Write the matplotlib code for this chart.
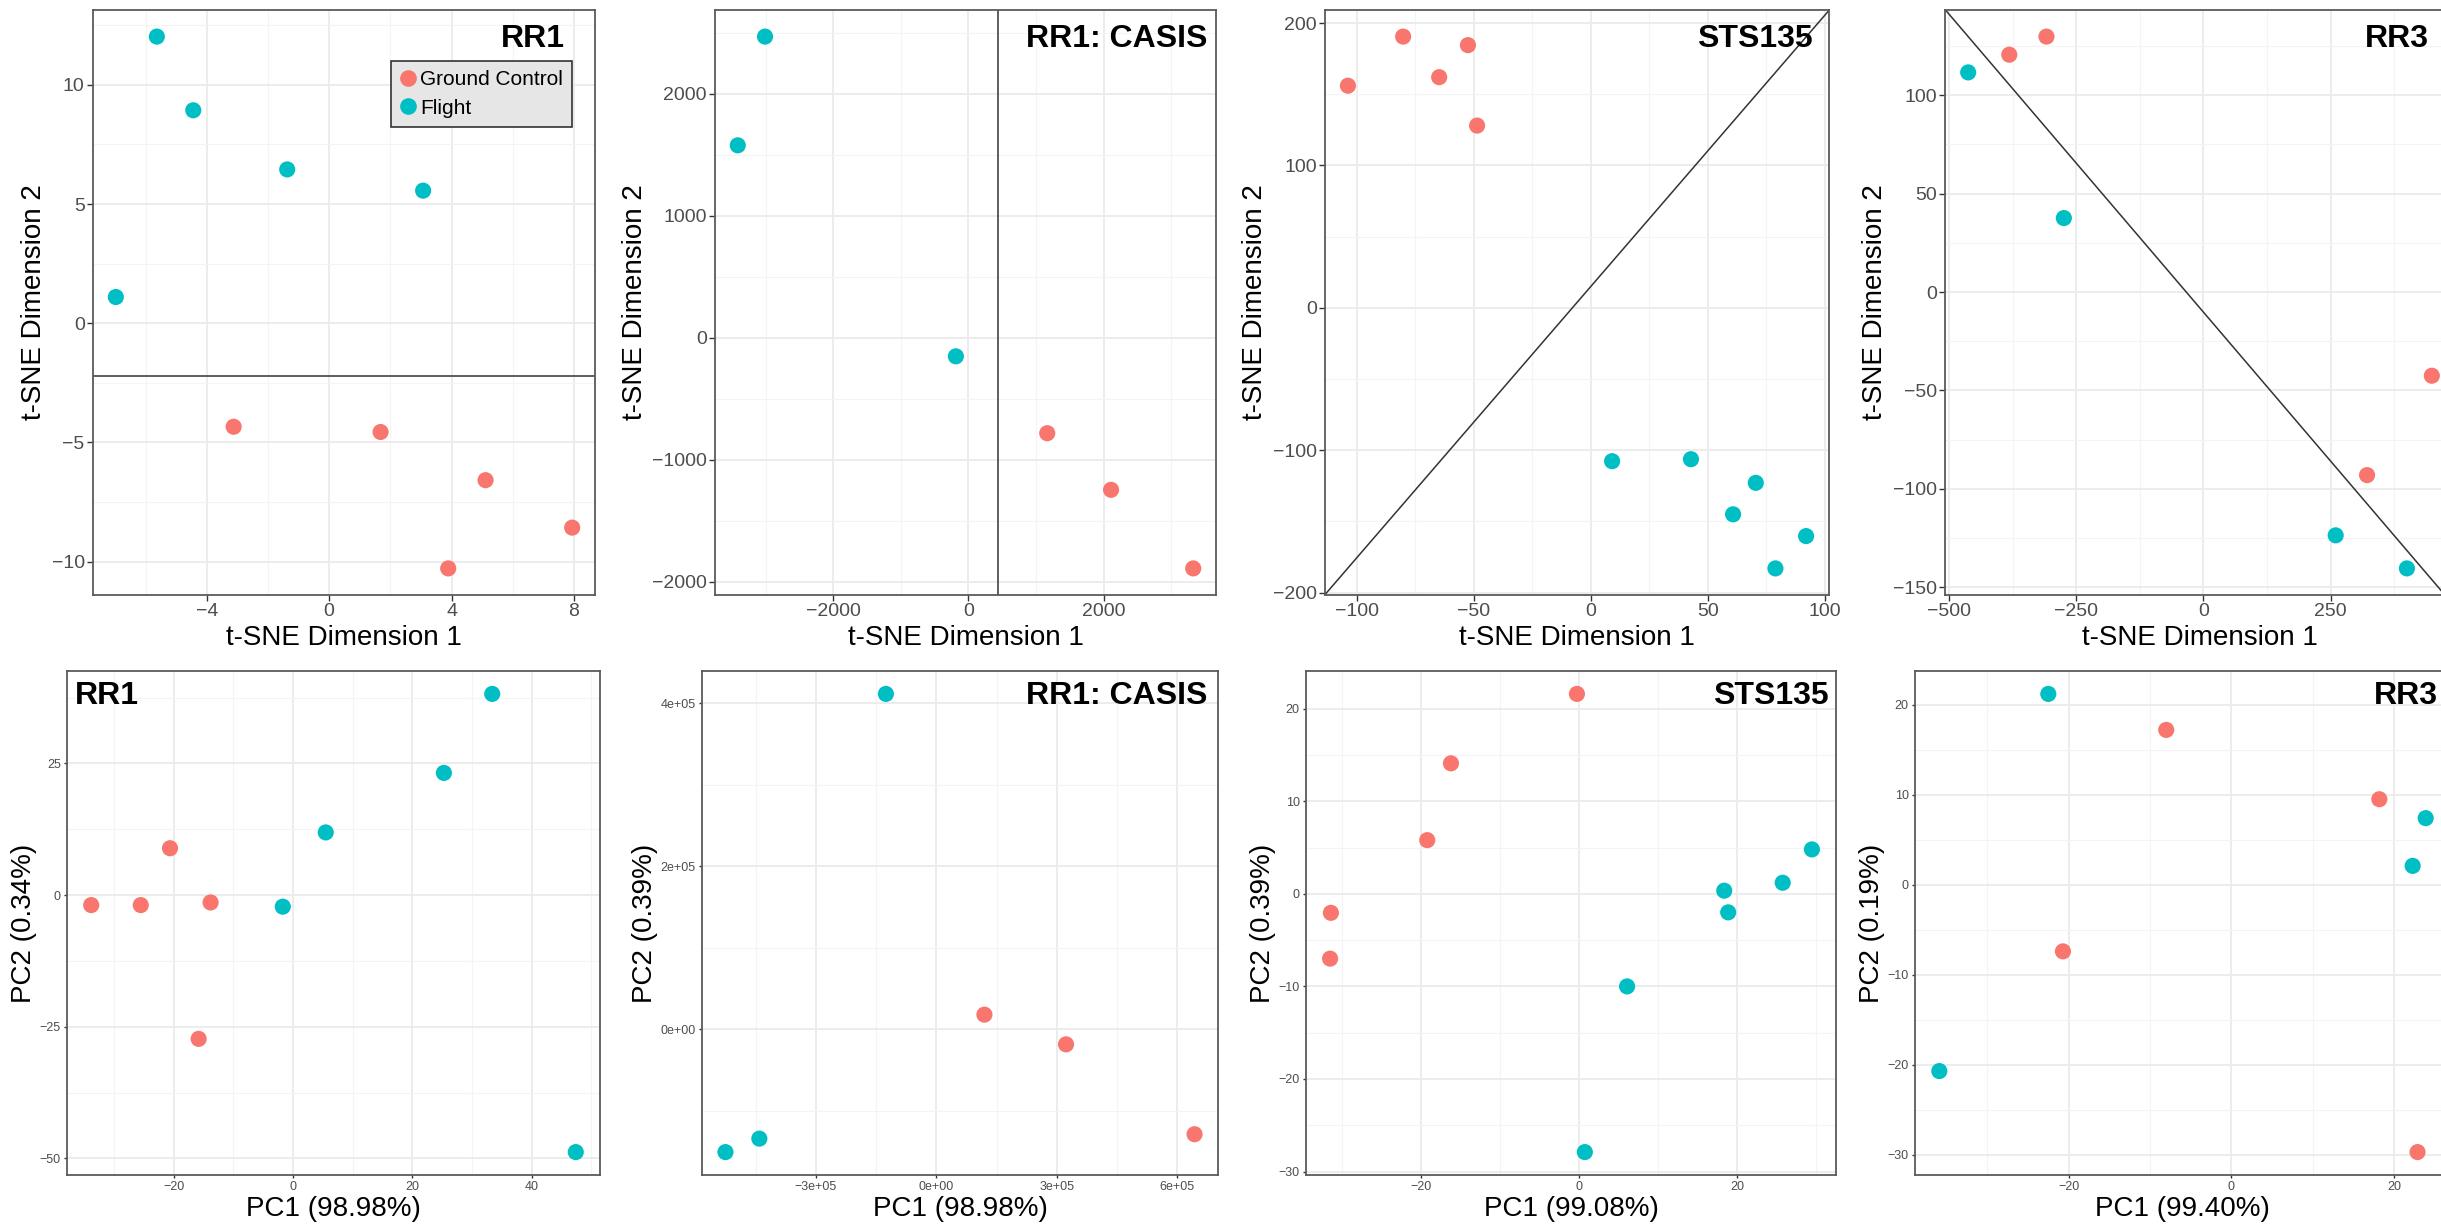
import matplotlib.pyplot as plt
import numpy as np
from matplotlib.lines import Line2D
from matplotlib.ticker import AutoMinorLocator, FuncFormatter

plt.rcParams['font.family'] = ['Liberation Sans', 'DejaVu Sans']

GC_COLOR = '#F8766D'   # Ground Control
FL_COLOR = '#00BFC4'   # Flight

# === t-SNE values (top row) ===
rr1_tsne_gc_x = [-3.12, 1.68, 5.11, 3.89, 7.94]
rr1_tsne_gc_y = [-4.34, -4.56, -6.58, -10.28, -8.57]
rr1_tsne_fl_x = [-5.63, -4.44, -1.37, 3.07, -6.97]
rr1_tsne_fl_y = [12.02, 8.93, 6.45, 5.56, 1.10]

casis_tsne_gc_x = [1166, 2110, 3326]
casis_tsne_gc_y = [-782, -1246, -1890]
casis_tsne_fl_x = [-3010, -3413, -186]
casis_tsne_fl_y = [2468, 1577, -152]

sts_tsne_gc_x = [-80.2, -52.5, -64.8, -103.8, -48.6]
sts_tsne_gc_y = [190.5, 184.5, 162.0, 156.0, 128.0]
sts_tsne_fl_x = [9.1, 42.8, 70.5, 60.8, 92.0, 78.9]
sts_tsne_fl_y = [-107.7, -106.3, -122.9, -145.0, -160.3, -183.0]

rr3_tsne_gc_x = [-381.7, -308.6, 449.0, 321.7]
rr3_tsne_gc_y = [120.6, 129.8, -42.5, -93.0]
rr3_tsne_fl_x = [-462.5, -274.4, 260.0, 400.0]
rr3_tsne_fl_y = [111.6, 37.6, -123.6, -140.4]

# === PCA values (bottom row) ===
rr1_pca_gc_x = [-33.8, -25.5, -20.6, -13.8, -15.8]
rr1_pca_gc_y = [-1.9, -1.9, 8.9, -1.4, -27.3]
rr1_pca_fl_x = [-1.7, 5.5, 25.3, 33.4, 47.4]
rr1_pca_fl_y = [-2.2, 11.9, 23.2, 38.2, -48.8]

casis_pca_gc_x = [1.197e5, 3.229e5, 6.428e5]
casis_pca_gc_y = [1.80e4, -1.84e4, -1.286e5]
casis_pca_fl_x = [-1.256e5, -5.25e5, -4.406e5]
casis_pca_fl_y = [4.112e5, -1.505e5, -1.34e5]

sts_pca_gc_x = [-0.25, -16.2, -19.2, -31.4, -31.5]
sts_pca_gc_y = [21.6, 14.1, 5.8, -2.05, -7.0]
sts_pca_fl_x = [18.4, 18.9, 25.8, 29.5, 6.1, 0.75]
sts_pca_fl_y = [0.34, -2.0, 1.2, 4.8, -10.0, -27.9]

rr3_pca_gc_x = [-8.0, 18.2, -20.7, 22.9]
rr3_pca_gc_y = [17.2, 9.5, -7.4, -29.7]
rr3_pca_fl_x = [-22.5, 23.9, 22.3, -35.9]
rr3_pca_fl_y = [21.2, 7.4, 2.1, -20.7]

# variance explained labels
pc1_labels = ['PC1 (98.98%)', 'PC1 (98.98%)', 'PC1 (99.08%)', 'PC1 (99.40%)']
pc2_labels = ['PC2 (0.34%)', 'PC2 (0.39%)', 'PC2 (0.39%)', 'PC2 (0.19%)']
titles = ['RR1', 'RR1: CASIS', 'STS135', 'RR3']

W, H = 2441, 1225
fig = plt.figure(figsize=(W / 100, H / 100), dpi=100)


def make_ax(x0, x1, y0, y1):
    return fig.add_axes([x0 / W, 1 - y1 / H, (x1 - x0) / W, (y1 - y0) / H])


def style(ax, xticks, yticks, tick_size, tick_len, fmt=None):
    xl, yl = ax.get_xlim(), ax.get_ylim()
    ax.set_xticks(xticks)
    ax.set_yticks(yticks)
    ax.set_xlim(xl)
    ax.set_ylim(yl)
    if fmt is not None:
        ax.xaxis.set_major_formatter(fmt)
        ax.yaxis.set_major_formatter(fmt)
    ax.xaxis.set_minor_locator(AutoMinorLocator(2))
    ax.yaxis.set_minor_locator(AutoMinorLocator(2))
    ax.set_axisbelow(True)
    ax.grid(which='major', color='#EBEBEB', linewidth=1.3)
    ax.grid(which='minor', color='#F4F4F4', linewidth=0.8)
    ax.tick_params(which='major', labelsize=tick_size, labelcolor='#4D4D4D',
                   color='#333333', length=tick_len, width=1.0, pad=2)
    ax.tick_params(which='minor', length=0)
    for sp in ax.spines.values():
        sp.set_color('#5A5A5A')
        sp.set_linewidth(1.3)


def points(ax, gx, gy, fx, fy):
    ax.scatter(gx, gy, s=135, color=GC_COLOR, edgecolors='none', zorder=3)
    ax.scatter(fx, fy, s=135, color=FL_COLOR, edgecolors='none', zorder=3)
    ax.margins(0.05)


def title(ax, text, right=True, dx=0, dy=-14):
    if right:
        ax.annotate(text, xy=(1, 1), xycoords='axes fraction', xytext=(dx, dy),
                    textcoords='offset pixels', ha='right', va='top',
                    fontsize=23, fontweight='bold', zorder=5)
    else:
        ax.annotate(text, xy=(0, 1), xycoords='axes fraction', xytext=(dx, dy),
                    textcoords='offset pixels', ha='left', va='top',
                    fontsize=23, fontweight='bold', zorder=5)


sci = FuncFormatter(lambda v, p: ('%.0e' % v).replace('-', '\u2212', 1) if v < 0 else '%.0e' % v)

# --- top row: t-SNE ---
top = [(93, 595), (715, 1216), (1325, 1829), (1945, 2455)]
tsne = [
    (rr1_tsne_gc_x, rr1_tsne_gc_y, rr1_tsne_fl_x, rr1_tsne_fl_y),
    (casis_tsne_gc_x, casis_tsne_gc_y, casis_tsne_fl_x, casis_tsne_fl_y),
    (sts_tsne_gc_x, sts_tsne_gc_y, sts_tsne_fl_x, sts_tsne_fl_y),
    (rr3_tsne_gc_x, rr3_tsne_gc_y, rr3_tsne_fl_x, rr3_tsne_fl_y),
]
tsne_xticks = [[-4, 0, 4, 8], [-2000, 0, 2000], [-100, -50, 0, 50, 100], [-500, -250, 0, 250]]
tsne_yticks = [[-10, -5, 0, 5, 10], [-2000, -1000, 0, 1000, 2000],
               [-200, -100, 0, 100, 200], [-150, -100, -50, 0, 50, 100]]
title_dx = [-30, -9, -16, -26]

for i, (x0, x1) in enumerate(top):
    ax = make_ax(x0, x1, 10, 595)
    points(ax, *tsne[i])
    if i == 0:
        ax.axhline(-2.2, color='#333333', linewidth=1.1, zorder=2)
    elif i == 1:
        ax.axvline(438, color='#333333', linewidth=1.1, zorder=2)
    elif i == 2:
        ax.axline((0, 15), slope=1.905, color='#333333', linewidth=1.1, zorder=2)
    else:
        ax.axline((0, -10.2), slope=-0.3027, color='#333333', linewidth=1.1, zorder=2)
    style(ax, tsne_xticks[i], tsne_yticks[i], 14, 4)
    ax.set_xlabel('t-SNE Dimension 1', fontsize=20, labelpad=3)
    ax.set_ylabel('t-SNE Dimension 2', fontsize=20, labelpad=3)
    title(ax, titles[i], dx=title_dx[i], dy=-14)
    if i == 0:
        handles = [Line2D([], [], marker='o', linestyle='none', markersize=12,
                          markerfacecolor=GC_COLOR, markeredgecolor='none'),
                   Line2D([], [], marker='o', linestyle='none', markersize=12,
                          markerfacecolor=FL_COLOR, markeredgecolor='none')]
        leg = ax.legend(handles, ['Ground Control', 'Flight'], loc='upper right',
                        bbox_to_anchor=(0.955, 0.913), fontsize=15, frameon=True,
                        fancybox=False, borderaxespad=0, handlelength=0.7,
                        handletextpad=0.25, labelspacing=0.45, borderpad=0.45)
        leg.get_frame().set_facecolor('#E6E6E6')
        leg.get_frame().set_edgecolor('#333333')
        leg.get_frame().set_linewidth(1.2)
        leg.get_frame().set_alpha(1)

# --- bottom row: PCA ---
bottom = [(67, 600), (702, 1218), (1306, 1836), (1915, 2450)]
pca = [
    (rr1_pca_gc_x, rr1_pca_gc_y, rr1_pca_fl_x, rr1_pca_fl_y),
    (casis_pca_gc_x, casis_pca_gc_y, casis_pca_fl_x, casis_pca_fl_y),
    (sts_pca_gc_x, sts_pca_gc_y, sts_pca_fl_x, sts_pca_fl_y),
    (rr3_pca_gc_x, rr3_pca_gc_y, rr3_pca_fl_x, rr3_pca_fl_y),
]
pca_xticks = [[-20, 0, 20, 40], [-3e5, 0, 3e5, 6e5], [-20, 0, 20], [-20, 0, 20]]
pca_yticks = [[-50, -25, 0, 25], [0, 2e5, 4e5], [-30, -20, -10, 0, 10, 20], [-30, -20, -10, 0, 10, 20]]

for i, (x0, x1) in enumerate(bottom):
    ax = make_ax(x0, x1, 671, 1175)
    points(ax, *pca[i])
    style(ax, pca_xticks[i], pca_yticks[i], 9, 2.5, fmt=sci if i == 1 else None)
    ax.set_xlabel(pc1_labels[i], fontsize=20, labelpad=2)
    ax.set_ylabel(pc2_labels[i], fontsize=20, labelpad=2)
    if i == 0:
        title(ax, titles[i], right=False, dx=8, dy=-10)
    else:
        title(ax, titles[i], dx=[0, -11, -7, -12][i], dy=-10)

fig.savefig('out.png', dpi=100)
